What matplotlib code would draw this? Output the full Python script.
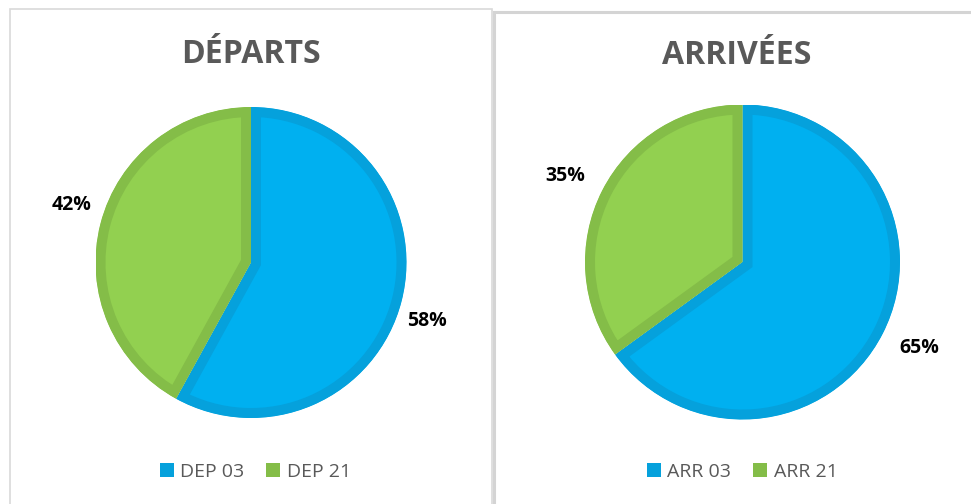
import matplotlib
matplotlib.use("Agg")
from matplotlib import pyplot as plt
from matplotlib.lines import Line2D
from matplotlib.patches import Rectangle
import numpy as np

plt.rcParams['font.family'] = ['Open Sans', 'DejaVu Sans']

titles = ["DÉPARTS", "ARRIVÉES"]
dep_labels = ["DEP 03", "DEP 21"]
dep_values = [58, 42]
arr_labels = ["ARR 03", "ARR 21"]
arr_values = [65, 35]

fills = ["#00B0F0", "#92D050"]
edges = ["#05A1DC", "#84BD48"]
grey = "#595959"

W, H = 971, 504
fig = plt.figure(figsize=(W / 100, H / 100), dpi=100)


def fx(px):
    return px / W


def fy(py):
    return 1 - py / H


# panel borders
fig.add_artist(Rectangle((fx(9.5), fy(530)), fx(491.5) - fx(9.5), fy(8.5) - fy(530),
                         transform=fig.transFigure, fill=False, edgecolor="#D9D9D9", lw=1.2))
fig.add_artist(Rectangle((fx(493.5), fy(530)), fx(1000) - fx(493.5), fy(12.5) - fy(530),
                         transform=fig.transFigure, fill=False, edgecolor="#D4D4D4", lw=2.2))

# label placement: distance from centre (in radii) and angle shift (deg) per slice
panels = [
    dict(title=titles[0], labels=dep_labels, values=dep_values, cx=251, cy=262.5, r=155.5,
         tx=250.5, ty=63, dist=[1.19, 1.21], shift=[-4, -3.5], lx=255),
    dict(title=titles[1], labels=arr_labels, values=arr_values, cx=742.5, cy=262, r=157.5,
         tx=736.5, ty=64, dist=[1.25, 1.25], shift=[1, 1], lx=742),
]

for p in panels:
    cx, cy, r = p["cx"], p["cy"], p["r"]
    ax = fig.add_axes([fx(cx - r), fy(cy + r), 2 * r / W, 2 * r / H])
    wedges, _ = ax.pie(p["values"], colors=fills, startangle=90, counterclock=False,
                       radius=1, wedgeprops=dict(linewidth=14.4))
    ax.set_xlim(-1, 1)
    ax.set_ylim(-1, 1)
    for w, ec, v, d, s in zip(wedges, edges, p["values"], p["dist"], p["shift"]):
        w.set_edgecolor(ec)
        # keep only the inner half of the outline, like the reference
        w.set_clip_on(True)
        w.set_clip_path(w)
        theta = np.deg2rad((w.theta1 + w.theta2) / 2 + s)
        ax.text(d * np.cos(theta), d * np.sin(theta), f"{v}%", ha="center", va="center",
                fontsize=14, fontweight="bold", color="black")
    ax.axis("off")

    fig.text(fx(p["tx"]), fy(p["ty"]), p["title"], ha="center", va="baseline",
             fontsize=23, fontweight="bold", color=grey)

    handles = [Line2D([], [], marker="s", linestyle="none", markersize=10,
                      markerfacecolor=c, markeredgewidth=0) for c in edges]
    fig.legend(handles, p["labels"], loc="center", bbox_to_anchor=(fx(p["lx"]), fy(472)),
               ncol=2, frameon=False, fontsize=14, handlelength=0.8, handletextpad=0.3,
               columnspacing=1.1, labelcolor=grey, borderpad=0, borderaxespad=0)

fig.savefig("out.png", dpi=100)
